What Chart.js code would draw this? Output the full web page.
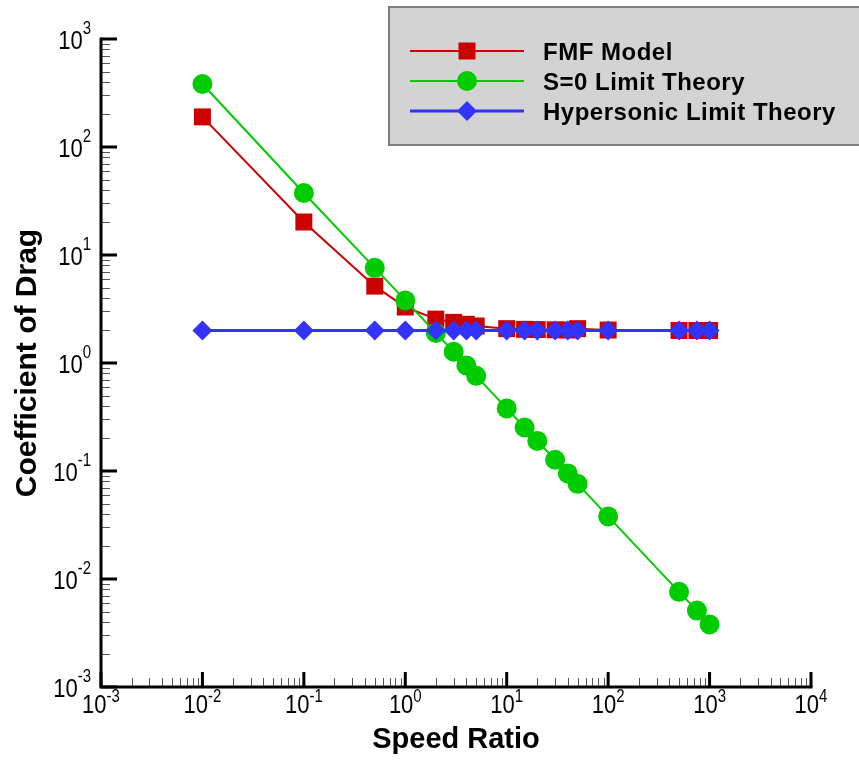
<!DOCTYPE html>
<html>
<head>
<meta charset="utf-8">
<script src="https://cdn.jsdelivr.net/npm/chart.js@4.4.0/dist/chart.umd.min.js"></script>
<style>
  body { margin: 0; background: #fff; }
  canvas { display: block; }
</style>
</head>
<body>
<canvas id="chart" width="859" height="761"></canvas>
<script>
// speed ratio values shared by all three series
const speedRatio = [0.01, 0.1, 0.5, 1, 2, 3, 4, 5, 10, 15, 20, 30, 40, 50, 100, 500, 750, 1000];

const fmfModel = [190, 20.2, 5.15, 3.3, 2.55, 2.38, 2.28, 2.2, 2.08, 2.05, 2.04, 2.03, 2.02, 2.08, 2.02, 2.0, 2.0, 2.0];
const s0Limit = [383, 37.5, 7.6, 3.8, 1.9, 1.27, 0.95, 0.76, 0.38, 0.253, 0.19, 0.127, 0.095, 0.076, 0.038, 0.0076, 0.0051, 0.0038];
const hypersonicLimit = [2, 2, 2, 2, 2, 2, 2, 2, 2, 2, 2, 2, 2, 2, 2, 2, 2, 2];

const seriesNames = ['FMF Model', 'S=0 Limit Theory', 'Hypersonic Limit Theory'];
const xExponents = [-3, -2, -1, 0, 1, 2, 3, 4];
const yExponents = [-3, -2, -1, 0, 1, 2, 3];

const RED = '#cc0000', GREEN = '#00cc00', BLUE = '#3333ff';
const FONT = '"Liberation Sans", Arial, sans-serif';

function pts(ys) {
  return speedRatio.map((x, i) => ({ x: x, y: ys[i] }));
}

// "10" with a raised exponent, text a little stretched vertically like the original
function drawPow(ctx, exp, x, base, align, expBase) {
  const e = String(exp);
  ctx.font = '22px ' + FONT;
  const w1 = ctx.measureText('10').width;
  ctx.font = '15px ' + FONT;
  const w2 = ctx.measureText(e).width;
  const left = align === 'right' ? x - w1 - w2 : x - (w1 + w2) / 2;
  ctx.fillStyle = '#000';
  ctx.textAlign = 'left';
  ctx.textBaseline = 'alphabetic';

  ctx.save();
  ctx.translate(left, base);
  ctx.scale(1, 1.18);
  ctx.font = '22px ' + FONT;
  ctx.fillText('10', 0, 0);
  ctx.restore();

  ctx.save();
  ctx.translate(left + w1, expBase);
  ctx.scale(1, 1.18);
  ctx.font = '15px ' + FONT;
  ctx.fillText(e, 0, 0);
  ctx.restore();
}

function marker(ctx, type, x, y, color) {
  ctx.fillStyle = color;
  ctx.beginPath();
  if (type === 'rect') {
    ctx.rect(x - 8.5, y - 8.5, 17, 17);
  } else if (type === 'circle') {
    ctx.arc(x, y, 10, 0, Math.PI * 2);
  } else {
    ctx.moveTo(x, y - 10); ctx.lineTo(x + 10, y); ctx.lineTo(x, y + 10); ctx.lineTo(x - 10, y);
    ctx.closePath();
  }
  ctx.fill();
}

const axesPlugin = {
  id: 'tecAxes',
  afterDraw(chart) {
    const ctx = chart.ctx;
    const xs = chart.scales.x, ys = chart.scales.y;
    const a = chart.chartArea;
    ctx.save();

    // minor ticks
    ctx.strokeStyle = '#555';
    ctx.lineWidth = 1;
    ctx.beginPath();
    for (let k = -3; k < 4; k++) {
      for (let m = 2; m <= 9; m++) {
        const px = Math.round(xs.getPixelForValue(m * Math.pow(10, k))) + 0.5;
        ctx.moveTo(px, a.bottom); ctx.lineTo(px, a.bottom - 9);
      }
    }
    for (let k = -3; k < 3; k++) {
      for (let m = 2; m <= 9; m++) {
        const py = Math.round(ys.getPixelForValue(m * Math.pow(10, k))) + 0.5;
        ctx.moveTo(a.left, py); ctx.lineTo(a.left + 9, py);
      }
    }
    ctx.stroke();

    // major ticks
    ctx.strokeStyle = '#000';
    ctx.lineWidth = 3;
    ctx.beginPath();
    xExponents.forEach(k => {
      const px = xs.getPixelForValue(Math.pow(10, k));
      ctx.moveTo(px, a.bottom); ctx.lineTo(px, a.bottom - 15);
    });
    yExponents.forEach(k => {
      const py = ys.getPixelForValue(Math.pow(10, k));
      ctx.moveTo(a.left, py); ctx.lineTo(a.left + 16, py);
    });
    ctx.stroke();

    // axis lines
    ctx.beginPath();
    ctx.moveTo(a.left, a.top - 1.5);
    ctx.lineTo(a.left, a.bottom);
    ctx.lineTo(a.right + 1.5, a.bottom);
    ctx.stroke();

    // tick labels
    xExponents.forEach(k => {
      const px = xs.getPixelForValue(Math.pow(10, k));
      drawPow(ctx, k, px, a.bottom + 26, 'center', a.bottom + 15);
    });
    yExponents.forEach(k => {
      const py = ys.getPixelForValue(Math.pow(10, k));
      drawPow(ctx, k, 91, py + 9.5, 'right', py - 5);
    });

    // axis titles
    ctx.fillStyle = '#000';
    ctx.font = 'bold 29px ' + FONT;
    ctx.textAlign = 'center';
    ctx.textBaseline = 'alphabetic';
    ctx.fillText('Speed Ratio', (a.left + a.right) / 2, 748);
    ctx.save();
    ctx.translate(36, (a.top + a.bottom) / 2);
    ctx.rotate(-Math.PI / 2);
    ctx.font = 'bold 30px ' + FONT;
    ctx.fillText('Coefficient of Drag', 0, 0);
    ctx.restore();

    // legend box
    ctx.fillStyle = '#d3d3d3';
    ctx.fillRect(389, 7, 480, 138);
    ctx.strokeStyle = '#808080';
    ctx.lineWidth = 2;
    ctx.strokeRect(389, 7, 480, 138);

    const rows = [
      { name: seriesNames[0], color: RED, shape: 'rect', y: 51, lw: 2 },
      { name: seriesNames[1], color: GREEN, shape: 'circle', y: 81, lw: 2 },
      { name: seriesNames[2], color: BLUE, shape: 'diamond', y: 111, lw: 3 }
    ];
    rows.forEach(r => {
      ctx.strokeStyle = r.color;
      ctx.lineWidth = r.lw;
      ctx.beginPath();
      ctx.moveTo(410, r.y); ctx.lineTo(524, r.y);
      ctx.stroke();
      marker(ctx, r.shape, 467, r.y, r.color);
      ctx.fillStyle = '#000';
      ctx.font = 'bold 24px ' + FONT;
      ctx.letterSpacing = '0.5px';
      ctx.textAlign = 'left';
      ctx.textBaseline = 'alphabetic';
      ctx.fillText(r.name, 543, r.y + 9);
      ctx.letterSpacing = '0px';
    });

    ctx.restore();
  }
};

new Chart(document.getElementById('chart'), {
  type: 'line',
  data: {
    datasets: [
      {
        label: seriesNames[0],
        data: pts(fmfModel),
        borderColor: RED,
        backgroundColor: RED,
        borderWidth: 2,
        pointStyle: 'rect',
        pointRadius: 12,
        pointBorderWidth: 0,
        order: 3
      },
      {
        label: seriesNames[1],
        data: pts(s0Limit),
        borderColor: GREEN,
        backgroundColor: GREEN,
        borderWidth: 2,
        pointStyle: 'circle',
        pointRadius: 10,
        pointBorderWidth: 0,
        order: 2
      },
      {
        label: seriesNames[2],
        data: pts(hypersonicLimit),
        borderColor: BLUE,
        backgroundColor: BLUE,
        borderWidth: 3,
        pointStyle: 'rectRot',
        pointRadius: 10,
        pointBorderWidth: 0,
        order: 1
      }
    ]
  },
  options: {
    responsive: false,
    animation: false,
    clip: false,
    layout: { padding: { left: 101, right: 48, top: 39, bottom: 74 } },
    elements: { line: { tension: 0 } },
    plugins: {
      legend: { display: false },
      tooltip: { enabled: false }
    },
    scales: {
      x: { type: 'logarithmic', min: 0.001, max: 10000, display: false },
      y: { type: 'logarithmic', min: 0.001, max: 1000, display: false }
    }
  },
  plugins: [axesPlugin]
});
</script>
</body>
</html>
